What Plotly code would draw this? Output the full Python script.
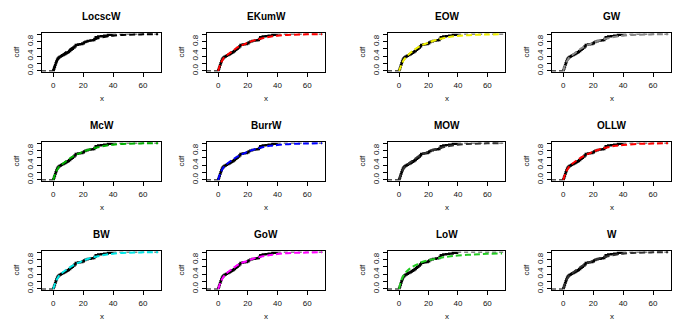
import plotly.graph_objects as go

# ---------------- data ----------------
models = ["LocscW", "EKumW", "EOW", "GW",
          "McW", "BurrW", "MOW", "OLLW",
          "BW", "GoW", "LoW", "W"]
fit_colors = ["#000000", "#FF0000", "#EEEE00", "#888888",
              "#00B000", "#0000FF", "#333333", "#FF0000",
              "#00E5E5", "#FF00FF", "#22CC22", "#333333"]

# empirical cdf (knots and levels after each knot)
ecdf_x = [0.0, 0.4, 0.8, 1.2, 1.6, 2.0, 2.5, 3.0, 3.6, 4.3, 5.2, 6.0, 7.0, 8.0, 8.8,
          9.6, 10.5, 11.4, 12.3, 13.2, 14.2, 15.0, 16.5, 18.0, 19.5, 20.5, 21.5,
          23.0, 25.0, 26.5, 27.5, 28.3, 30.0, 32.0, 34.0, 36.5, 39.5]
ecdf_y = [0.02, 0.06, 0.11, 0.16, 0.21, 0.26, 0.31, 0.34, 0.37, 0.39, 0.41, 0.43,
          0.45, 0.47, 0.49, 0.51, 0.54, 0.57, 0.60, 0.63, 0.67, 0.71, 0.72, 0.73,
          0.75, 0.78, 0.80, 0.82, 0.83, 0.84, 0.87, 0.92, 0.94, 0.95, 0.96, 0.98, 1.0]

# fitted cdf values read at these x
fit_x = [0, 1, 2, 3, 4, 6, 8, 10, 12, 15, 18, 20, 25, 30, 35, 40, 50, 60, 70]
fit_LocscW = [0, 0.14, 0.24, 0.31, 0.36, 0.43, 0.49, 0.55, 0.61, 0.68, 0.73, 0.76, 0.83, 0.89, 0.93, 0.96, 0.985, 0.995, 1.0]
fit_EKumW = [0, 0.13, 0.23, 0.30, 0.36, 0.43, 0.49, 0.55, 0.61, 0.68, 0.73, 0.77, 0.84, 0.89, 0.93, 0.96, 0.985, 0.995, 1.0]
fit_EOW = [0, 0.10, 0.20, 0.28, 0.34, 0.43, 0.50, 0.56, 0.62, 0.69, 0.74, 0.77, 0.84, 0.89, 0.93, 0.95, 0.98, 0.99, 1.0]
fit_GW = [0, 0.13, 0.23, 0.30, 0.36, 0.43, 0.49, 0.55, 0.61, 0.68, 0.73, 0.77, 0.84, 0.89, 0.93, 0.96, 0.985, 0.995, 1.0]
fit_McW = [0, 0.13, 0.23, 0.30, 0.36, 0.43, 0.49, 0.55, 0.61, 0.68, 0.73, 0.77, 0.84, 0.89, 0.93, 0.96, 0.985, 0.995, 1.0]
fit_BurrW = [0, 0.12, 0.22, 0.30, 0.36, 0.44, 0.50, 0.56, 0.61, 0.68, 0.73, 0.77, 0.84, 0.89, 0.93, 0.95, 0.98, 0.99, 1.0]
fit_MOW = [0, 0.13, 0.23, 0.30, 0.36, 0.43, 0.49, 0.55, 0.61, 0.68, 0.73, 0.77, 0.84, 0.89, 0.93, 0.96, 0.985, 0.995, 1.0]
fit_OLLW = [0, 0.12, 0.22, 0.30, 0.36, 0.44, 0.50, 0.56, 0.61, 0.68, 0.73, 0.77, 0.84, 0.89, 0.93, 0.95, 0.98, 0.99, 1.0]
fit_BW = [0, 0.12, 0.22, 0.30, 0.36, 0.44, 0.50, 0.56, 0.61, 0.68, 0.73, 0.77, 0.84, 0.89, 0.93, 0.96, 0.985, 0.995, 1.0]
fit_GoW = [0, 0.11, 0.21, 0.29, 0.35, 0.44, 0.50, 0.56, 0.62, 0.69, 0.74, 0.77, 0.84, 0.89, 0.92, 0.95, 0.98, 0.99, 1.0]
fit_LoW = [0, 0.16, 0.28, 0.36, 0.42, 0.51, 0.57, 0.62, 0.66, 0.72, 0.76, 0.78, 0.82, 0.86, 0.89, 0.91, 0.935, 0.955, 0.965]
fit_W = [0, 0.13, 0.23, 0.30, 0.36, 0.43, 0.49, 0.55, 0.61, 0.68, 0.73, 0.77, 0.84, 0.89, 0.93, 0.96, 0.985, 0.995, 1.0]
fits = [fit_LocscW, fit_EKumW, fit_EOW, fit_GW, fit_McW, fit_BurrW,
        fit_MOW, fit_OLLW, fit_BW, fit_GoW, fit_LoW, fit_W]

x_ticks = [0, 20, 40, 60]
x_tick_labels = ["0", "20", "40", "60"]
y_ticks = [0, 0.2, 0.4, 0.6, 0.8, 1.0]
y_tick_labels = ["0.0", "", "0.4", "", "0.8", ""]
x_range = [-7.5, 72]
y_range = [-0.04, 1.04]

# ---------------- layout geometry (pixels) ----------------
W, H = 679, 331
col_px = [(42, 161), (207, 325), (388, 505), (552, 671)]
row_px = [(33, 73), (143, 183), (253, 293)]

fig = go.Figure()
font = "Liberation Sans, Arial, sans-serif"
annotations = []
layout_axes = {}

for i, name in enumerate(models):
    r, c = divmod(i, 4)
    k = i + 1
    xa = "x" if k == 1 else f"x{k}"
    ya = "y" if k == 1 else f"y{k}"
    x0, x1 = col_px[c]
    y0, y1 = row_px[r]

    # dashed tails at 0 and 1 outside the data range
    fig.add_trace(go.Scatter(x=[x_range[0], 0], y=[0, 0], mode="lines",
                             line=dict(color="#555555", width=1.5, dash="4px,3px"),
                             xaxis=xa, yaxis=ya, showlegend=False, hoverinfo="skip"))
    fig.add_trace(go.Scatter(x=[ecdf_x[-1], x_range[1]], y=[1, 1], mode="lines",
                             line=dict(color="#888888", width=1.5, dash="4px,3px"),
                             xaxis=xa, yaxis=ya, showlegend=False, hoverinfo="skip"))
    # ecdf step
    fig.add_trace(go.Scatter(x=[0] + ecdf_x, y=[0] + ecdf_y, mode="lines",
                             line=dict(color="black", width=2.2, shape="hv"),
                             xaxis=xa, yaxis=ya, showlegend=False))
    # fitted cdf
    fig.add_trace(go.Scatter(x=fit_x, y=fits[i], mode="lines",
                             line=dict(color=fit_colors[i], width=2, dash="6px,3px", shape="spline"),
                             xaxis=xa, yaxis=ya, showlegend=False))

    layout_axes["xaxis" if k == 1 else f"xaxis{k}"] = dict(
        domain=[x0 / W, x1 / W], range=x_range, anchor=ya,
        tickvals=x_ticks, ticktext=x_tick_labels, ticks="outside", ticklen=4,
        tickwidth=1, tickcolor="black", showline=True, linecolor="black",
        linewidth=1.3, mirror=True, showgrid=False, zeroline=False,
        tickfont=dict(family=font, size=8, color="#111"), ticklabelstandoff=1)
    layout_axes["yaxis" if k == 1 else f"yaxis{k}"] = dict(
        domain=[1 - y1 / H, 1 - y0 / H], range=y_range, anchor=xa,
        tickvals=y_ticks, ticktext=y_tick_labels, ticks="outside", ticklen=4,
        tickwidth=1, tickcolor="black", showline=True, linecolor="black",
        linewidth=1.3, mirror=True, showgrid=False, zeroline=False, tickangle=-90,
        tickfont=dict(family=font, size=8, color="#111"), ticklabelstandoff=1)

    cx = (x0 + x1) / 2
    annotations.append(dict(text=f"<b>{name}</b>", x=cx / W, y=1 - (y0 - 16) / H,
                            xref="paper", yref="paper", showarrow=False,
                            xanchor="center", yanchor="middle",
                            font=dict(family=font, size=10, color="black")))
    annotations.append(dict(text="x", x=cx / W, y=1 - (y1 + 26) / H,
                            xref="paper", yref="paper", showarrow=False,
                            xanchor="center", yanchor="middle",
                            font=dict(family=font, size=8, color="#111")))
    annotations.append(dict(text="cdf", x=(x0 - 25) / W, y=1 - ((y0 + y1) / 2) / H,
                            xref="paper", yref="paper", showarrow=False, textangle=-90,
                            xanchor="center", yanchor="middle",
                            font=dict(family=font, size=8, color="#111")))

fig.update_layout(width=W, height=H, margin=dict(l=0, r=0, t=0, b=0),
                  paper_bgcolor="white", plot_bgcolor="white",
                  annotations=annotations, **layout_axes)

fig.write_html("out.html", config={"displayModeBar": False},
               post_script="document.body.style.margin='0';document.body.style.padding='0';")
